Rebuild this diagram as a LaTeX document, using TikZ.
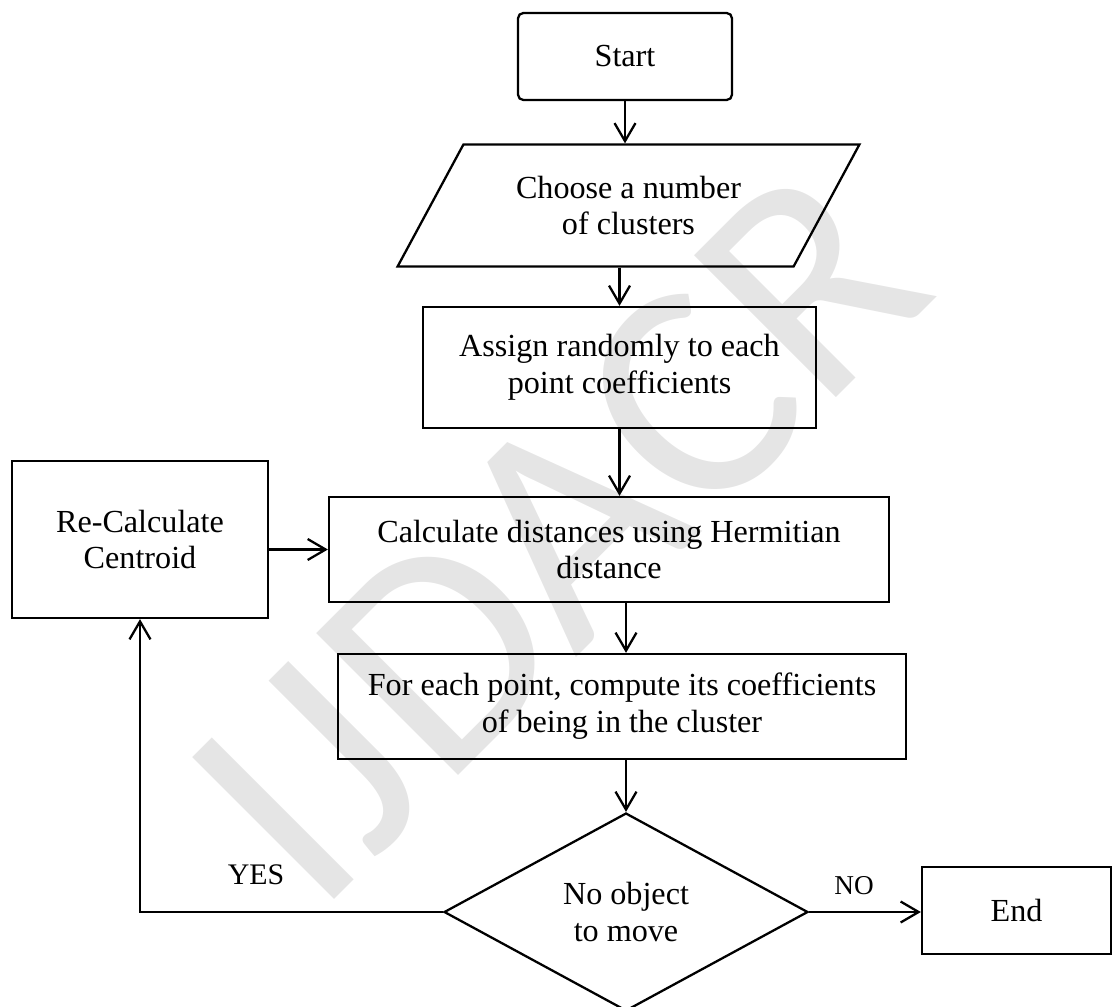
\documentclass[tikz,border=0pt]{standalone}
\usepackage{fontspec}
\setmainfont{Liberation Serif}
\newfontfamily\wmfont{Carlito}
\usetikzlibrary{shapes.geometric,arrows.meta}
\begin{document}
\begin{tikzpicture}[x=0.02cm,y=-0.02cm,line width=1.3pt,
  box/.style={draw,rectangle,inner sep=0pt,align=center,font=\fontsize{18.3}{21}\selectfont},
  io/.style={box,trapezium,trapezium left angle=53,trapezium right angle=127,trapezium stretches=true},
  decision/.style={box,diamond},
  lbl/.style={inner sep=0pt,font=\fontsize{15.5}{18}\selectfont},
  wmark/.style={inner sep=0pt,anchor=base west,rotate=45,text=gray!20,font=\wmfont\fontsize{178}{178}\selectfont},
  arr/.style={-{Straight Barb[length=0.36cm,width=0.42cm]}}]
\useasboundingbox (0,0) rectangle (1114,1006);
\node[wmark] (wm) at (316,918) {IJDACR};
\node[box,rounded corners=3pt,minimum width=4.28cm,minimum height=1.74cm] (start) at (625,56.5) {Start};
\node[io,minimum width=9.26cm,minimum height=2.44cm] (choose) at (628.5,205.5) {Choose a number\\of clusters};
\node[box,minimum width=7.86cm,minimum height=2.42cm] (assign) at (619.5,367.5) {Assign randomly to each\\point coefficients};
\node[box,minimum width=11.2cm,minimum height=2.1cm] (calc) at (609,549.5) {Calculate distances using Hermitian\\distance};
\node[box,minimum width=5.12cm,minimum height=3.14cm] (recalc) at (140,539.5) {Re-Calculate\\Centroid};
\node[box,minimum width=11.36cm,minimum height=2.1cm] (coeff) at (622,706.5) {For each point, compute its coefficients\\of being in the cluster};
\node[decision,minimum width=7.28cm,minimum height=3.96cm] (decide) at (626,912) {No object\\to move};
\node[box,minimum width=3.78cm,minimum height=1.74cm] (finish) at (1016.5,910.5) {End};
\node[lbl,font=\fontsize{17}{20}\selectfont] (yes) at (256,875) {YES};
\node[lbl] (no) at (854,886) {NO};
\draw[arr] (start.south) -- (start.south |- choose.north);
\draw[arr] (assign.north |- choose.south) -- (assign.north);
\draw[arr] (assign.south) -- (assign.south |- calc.north);
\draw[arr] (recalc.east |- calc.west) -- (calc.west);
\draw[arr] (decide.north |- calc.south) -- (decide.north |- coeff.north);
\draw[arr] (decide.north |- coeff.south) -- (decide.north);
\draw[arr] (decide.east) -- (decide.east -| finish.west);
\draw[arr] (decide.west) -| (recalc.south);
\end{tikzpicture}
\end{document}
